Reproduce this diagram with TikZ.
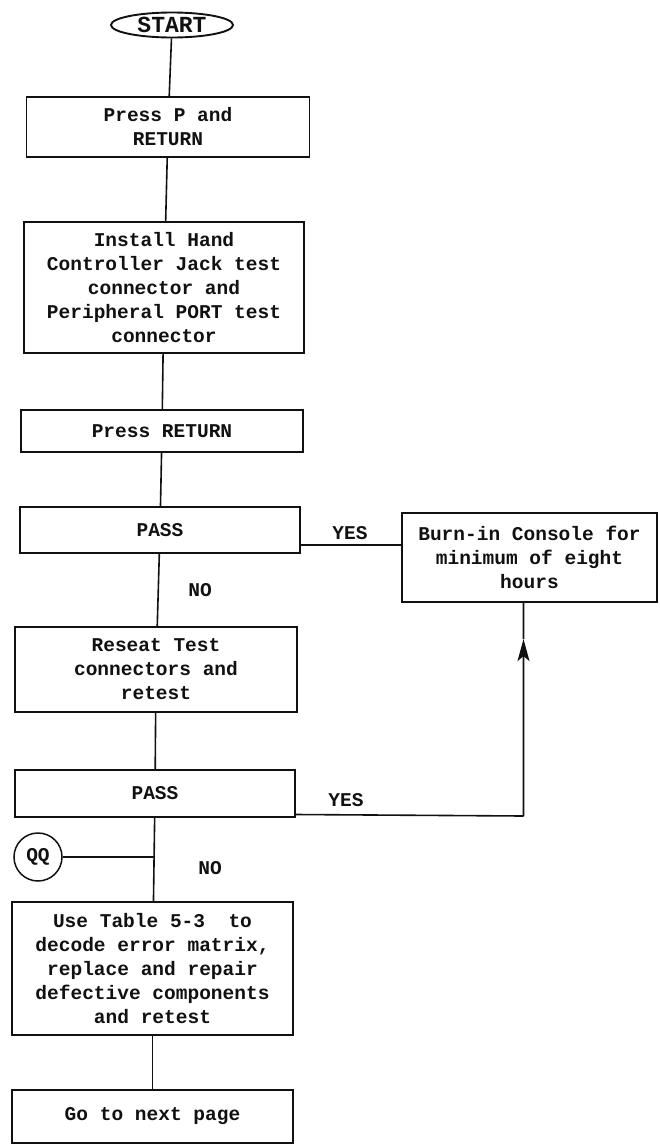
\documentclass[tikz,border=0pt]{standalone}
\usepackage{fontspec}
\setmonofont{Liberation Mono}
\usetikzlibrary{arrows.meta,positioning,calc,shapes.geometric}
\definecolor{ink}{HTML}{111111}
\newcommand{\flowtxt}{\ttfamily\bfseries\fontsize{19.5}{24}\selectfont}
\newcommand{\stepnode}[5]{%
  \node[draw=ink,line width=1.7pt,fill=white,align=center,text=ink,
        minimum width=#3,minimum height=#4,inner sep=0pt,font=\flowtxt]
       (#1) at #2 {#5};}

\begin{document}
\begin{tikzpicture}[x=1pt,y=-1pt]
  \useasboundingbox (0,0) rectangle (660,1146);
  \tikzset{link/.style={draw=ink,line width=1.6pt},
           lbl/.style={font=\flowtxt,text=ink}}

  % Start
  \node[ellipse,draw=ink,line width=1.9pt,minimum width=122pt,
        minimum height=25pt,inner sep=0pt,text=ink,
        font=\ttfamily\bfseries\fontsize{23}{24}\selectfont]
       (start) at (172,25) {START};

  % Main column
  \stepnode{pressp}{(168,127)}{283pt}{60pt}{Press P and\\RETURN}
  \stepnode{install}{(164,287.5)}{280pt}{131pt}{Install Hand\\Controller Jack test\\connector and\\Peripheral PORT test\\connector}
  \stepnode{pressret}{(162,431)}{282pt}{42pt}{Press RETURN}
  \stepnode{passA}{(160,530)}{280pt}{46pt}{PASS}
  \stepnode{reseat}{(156,669.5)}{282pt}{85pt}{Reseat Test\\connectors and\\retest}
  \stepnode{passB}{(155,793.5)}{280pt}{47pt}{PASS}
  \stepnode{decode}{(152.5,968.5)}{281pt}{133pt}{Use Table 5-3 \ to\\decode error matrix,\\replace and repair\\defective components\\and retest}
  \stepnode{nextpg}{(152.5,1116.5)}{281pt}{53pt}{Go to next page}
  % Side box
  \stepnode{burnin}{(529.5,557.5)}{255pt}{89pt}{Burn-in Console for\\minimum of eight\\hours}

  % Entry connector
  \node[circle,draw=ink,line width=1.5pt,minimum size=48pt,inner sep=0pt,
        font=\flowtxt,text=ink] (qq) at (38,857) {QQ};

  % Flow lines
  \draw[link] (start) -- (pressp);
  \draw[link] (pressp) -- (install);
  \draw[link] (install) -- (pressret);
  \draw[link] (pressret) -- (passA);
  \draw[link] (passA) -- (reseat);
  \draw[link] (reseat) -- (passB);
  \draw[link] (passB) -- (decode);
  \draw[link] (decode) -- (nextpg);
  \draw[link] (qq.east) -- (qq.east -| passB.south);

  \draw[link] ([yshift=-15pt]passA.east) -- ([yshift=-15pt]passA.east -| burnin.west);
  \coordinate (turn) at ([xshift=-6pt]burnin.south |- 0,816);
  \draw[link] ([yshift=-21pt]passB.east) -- (turn);
  \draw[link,-{Stealth[length=22pt,width=12pt,inset=5pt]}] (turn) -- ($([xshift=-6pt]burnin.south)!0.17!(turn)$);
  \draw[link] ([xshift=-6pt]burnin.south) -- ($([xshift=-6pt]burnin.south)!0.17!(turn)$);

  % Labels
  \node[lbl] (yesA) at (350,533) {YES};
  \node[lbl] (noA) at (200,590) {NO};
  \node[lbl] (yesB) at (346,800) {YES};
  \node[lbl] (noB) at (210,868) {NO};
\end{tikzpicture}
\end{document}
